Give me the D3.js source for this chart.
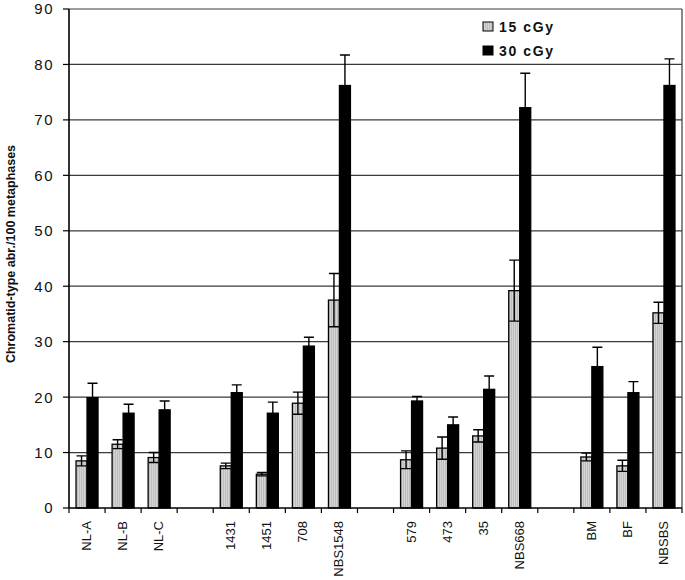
<!DOCTYPE html>
<html>
<head>
<meta charset="utf-8">
<script src="https://cdn.jsdelivr.net/npm/d3@7"></script>
<style>
  body { margin: 0; background: #fff; }
  #chart { position: relative; width: 685px; height: 580px; }
  svg { display: block; font-family: Arial, "Liberation Sans", sans-serif; }
  .xlab {
    position: absolute;
    font-family: Arial, "Liberation Sans", sans-serif;
    font-size: 13px;
    line-height: 14px;
    color: #111;
    white-space: nowrap;
    transform-origin: 0 0;
    transform: rotate(-90deg) translate(-100%, -50%);
  }
</style>
</head>
<body>
<div id="chart"></div>
<script>
// cell lines, empty strings are the gaps between groups
const lines = ["NL-A", "NL-B", "NL-C", "", "1431", "1451", "708", "NBS1548", "", "579", "473", "35", "NBS668", "", "BM", "BF", "NBSBS"];
const doses = ["15 cGy", "30 cGy"];
const mean15 = [8.5, 11.5, 9.1, null, 7.6, 6.1, 18.9, 37.5, null, 8.7, 10.8, 13.0, 39.2, null, 9.2, 7.6, 35.2];
const err15 = [0.9, 0.8, 0.9, null, 0.5, 0.3, 2.0, 4.8, null, 1.6, 2.0, 1.1, 5.5, null, 0.7, 1.0, 1.9];
const mean30 = [19.9, 17.1, 17.7, null, 20.8, 17.1, 29.2, 76.2, null, 19.3, 15.0, 21.4, 72.2, null, 25.5, 20.8, 76.2];
const err30 = [2.6, 1.6, 1.6, null, 1.4, 2.0, 1.6, 5.5, null, 0.8, 1.4, 2.4, 6.2, null, 3.5, 2.0, 4.8];
const yTicks = [0, 10, 20, 30, 40, 50, 60, 70, 80, 90];

const width = 685, height = 580;
const margin = {top: 9, right: 3, bottom: 72, left: 69};
const innerWidth = width - margin.left - margin.right;
const innerHeight = height - margin.top - margin.bottom;

const chart = d3.select("#chart");
const svg = chart
  .append("svg")
    .attr("width", width)
    .attr("height", height);

// light grey fill has a fine vertical stripe in the original
const defs = svg.append("defs");
const pat = defs.append("pattern")
    .attr("id", "stripe")
    .attr("patternUnits", "userSpaceOnUse")
    .attr("width", 2).attr("height", 4);
pat.append("rect").attr("width", 2).attr("height", 4).attr("fill", "#d4d4d4");
pat.append("rect").attr("width", 1).attr("height", 4).attr("fill", "#bdbdbd");

const g = svg.append("g")
  .attr("transform", `translate(${margin.left},${margin.top})`);

const slots = d3.range(lines.length);
const xScale = d3.scaleBand()
  .domain(slots)
  .range([0, innerWidth])
  .padding(0);

const xInner = d3.scaleBand()
  .domain(doses)
  .range([0, xScale.bandwidth()])
  .paddingInner(0)
  .paddingOuter(0.64);

const yScale = d3.scaleLinear()
  .domain([0, 90])
  .range([innerHeight, 0]);

// grid lines
g.selectAll(".grid")
  .data(yTicks.filter(t => t > 0))
  .join("line")
    .attr("class", "grid")
    .attr("x1", 0).attr("x2", innerWidth)
    .attr("y1", d => yScale(d)).attr("y2", d => yScale(d))
    .attr("stroke", "#3a3a3a")
    .attr("stroke-width", 1.2);

// right border
g.append("line")
  .attr("x1", innerWidth).attr("x2", innerWidth)
  .attr("y1", 0).attr("y2", innerHeight)
  .attr("stroke", "#3a3a3a")
  .attr("stroke-width", 1.2);

const series = [
  {dose: doses[0], mean: mean15, err: err15, fill: "url(#stripe)"},
  {dose: doses[1], mean: mean30, err: err30, fill: "#000"}
];

series.forEach(s => {
  const data = slots.filter(i => s.mean[i] != null)
    .map(i => ({slot: i, v: s.mean[i], e: s.err[i]}));

  const grp = g.append("g");

  grp.selectAll("rect")
    .data(data)
    .join("rect")
      .attr("x", d => xScale(d.slot) + xInner(s.dose))
      .attr("y", d => yScale(d.v))
      .attr("width", xInner.bandwidth())
      .attr("height", d => yScale(0) - yScale(d.v))
      .attr("fill", s.fill)
      .attr("stroke", "#000")
      .attr("stroke-width", 1.3);

  const cx = d => xScale(d.slot) + xInner(s.dose) + xInner.bandwidth() / 2;
  const capW = 5;

  // error bars, drawn both ways (lower half hides inside the black bars)
  grp.selectAll(".err")
    .data(data)
    .join("path")
      .attr("class", "err")
      .attr("fill", "none")
      .attr("stroke", "#000")
      .attr("stroke-width", 1.4)
      .attr("d", d => {
        const x = cx(d), y1 = yScale(d.v + d.e), y0 = yScale(d.v - d.e);
        return `M${x},${y0}V${y1}M${x - capW},${y1}H${x + capW}M${x - capW},${y0}H${x + capW}`;
      });
});

// y axis
g.append("line")
  .attr("x1", 0).attr("x2", 0)
  .attr("y1", 0).attr("y2", innerHeight)
  .attr("stroke", "#000").attr("stroke-width", 1.6);

g.selectAll(".ytick")
  .data(yTicks)
  .join("line")
    .attr("class", "ytick")
    .attr("x1", -6).attr("x2", 0)
    .attr("y1", d => yScale(d)).attr("y2", d => yScale(d))
    .attr("stroke", "#000").attr("stroke-width", 1.2);

g.selectAll(".ylab")
  .data(yTicks)
  .join("text")
    .attr("class", "ylab")
    .attr("x", -15)
    .attr("y", d => yScale(d))
    .attr("dy", "0.36em")
    .attr("text-anchor", "end")
    .style("font-size", "15px")
    .style("letter-spacing", "1.5px")
    .attr("fill", "#111")
    .text(d => d);

// x axis
g.append("line")
  .attr("x1", 0).attr("x2", innerWidth)
  .attr("y1", innerHeight).attr("y2", innerHeight)
  .attr("stroke", "#000").attr("stroke-width", 1.6);

g.selectAll(".xtick")
  .data(d3.range(lines.length + 1))
  .join("line")
    .attr("class", "xtick")
    .attr("x1", i => i * xScale.step()).attr("x2", i => i * xScale.step())
    .attr("y1", innerHeight).attr("y2", innerHeight + 5)
    .attr("stroke", "#000").attr("stroke-width", 1.2);

// category labels as html, turned to read bottom to top
chart.selectAll("div.xlab")
  .data(slots.filter(i => lines[i] !== ""))
  .join("div")
    .attr("class", "xlab")
    .style("left", i => (margin.left + xScale(i) + xScale.bandwidth() / 2) + "px")
    .style("top", (margin.top + innerHeight + 13) + "px")
    .text(i => lines[i]);

// y title
svg.append("text")
  .attr("transform", "translate(10,254) rotate(-90)")
  .attr("text-anchor", "middle")
  .attr("dy", "0.36em")
  .style("font-size", "12.5px")
  .style("font-weight", "bold")
  .attr("fill", "#111")
  .text("Chromatid-type abr./100 metaphases");

// legend
const legend = svg.append("g")
  .attr("transform", "translate(483,20)");

const items = legend.selectAll("g")
  .data(series)
  .join("g")
    .attr("transform", (d, i) => `translate(0,${i * 24})`);

items.append("rect")
  .attr("width", 10).attr("height", 9)
  .attr("y", 2)
  .attr("fill", d => d.fill)
  .attr("stroke", "#000")
  .attr("stroke-width", 1);

items.append("text")
  .attr("x", 16)
  .attr("y", 7)
  .attr("dy", "0.36em")
  .style("font-size", "14px")
  .style("font-weight", "bold")
  .style("letter-spacing", "1.6px")
  .attr("fill", "#111")
  .text(d => d.dose);
</script>
</body>
</html>
